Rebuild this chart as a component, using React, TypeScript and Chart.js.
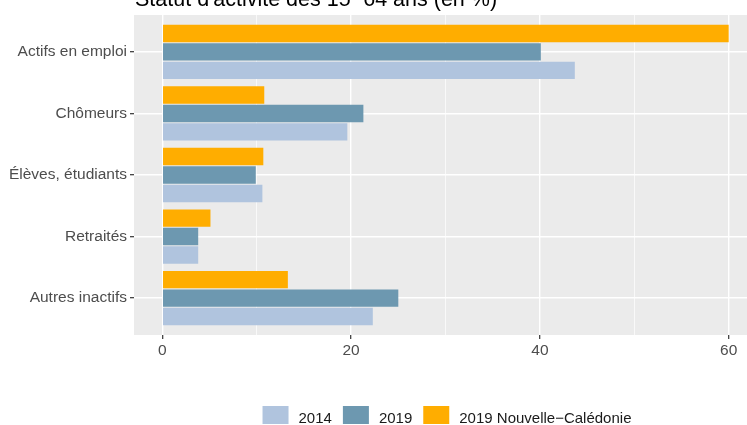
import React, { useEffect, useRef } from 'react';
import { Chart, registerables } from 'chart.js';

Chart.register(...registerables);

const titleText = "Statut d'activité des 15−64 ans (en %)";
const categories = ['Actifs en emploi', 'Chômeurs', 'Élèves, étudiants', 'Retraités', 'Autres inactifs'];
const values2014 = [43.7, 19.6, 10.6, 3.8, 22.3];
const values2019 = [40.1, 21.3, 9.9, 3.8, 25.0];
const valuesNC = [60.0, 10.8, 10.7, 5.1, 13.3];
const seriesLabels = ['2014', '2019', '2019 Nouvelle−Calédonie'];
const seriesColors = ['#B0C4DE', '#6D98B0', '#FFAD00'];
const xTicks = [0, 10, 20, 30, 40, 50, 60];
const xLabelStep = 20;

const FONT = '"Liberation Sans", Arial, sans-serif';

export default function App() {
  const ref = useRef<HTMLCanvasElement | null>(null);

  useEffect(() => {
    const canvas = ref.current;
    if (!canvas) return;

    const toPoints = (vals: number[]) => vals.map((v, i) => ({ x: v, y: i + 1 }));

    const panelBg = {
      id: 'panelBg',
      beforeDraw(chart: any) {
        const { ctx, chartArea } = chart;
        ctx.save();
        ctx.fillStyle = '#EBEBEB';
        ctx.fillRect(chartArea.left, chartArea.top, chartArea.right - chartArea.left, chartArea.bottom - chartArea.top);
        ctx.restore();
      },
    };

    const titleAndLegend = {
      id: 'titleAndLegend',
      afterDraw(chart: any) {
        const { ctx } = chart;
        ctx.save();
        ctx.font = `21.5px ${FONT}`;
        ctx.fillStyle = '#000000';
        ctx.textBaseline = 'alphabetic';
        ctx.textAlign = 'left';
        ctx.fillText(titleText, 135, 6);

        const ds = chart.data.datasets.slice().reverse();
        ctx.font = `15px ${FONT}`;
        const boxW = 26, boxH = 18, gapBoxText = 10, gapItems = 11;
        const widths = ds.map((d: any) => ctx.measureText(d.label).width);
        let total = 0;
        widths.forEach((w: number, i: number) => {
          total += boxW + gapBoxText + w + (i < widths.length - 1 ? gapItems : 0);
        });
        const center = 447;
        let x = center - total / 2;
        const boxTop = 406;
        ds.forEach((d: any, i: number) => {
          ctx.fillStyle = d.backgroundColor;
          ctx.fillRect(x, boxTop, boxW, boxH);
          x += boxW + gapBoxText;
          ctx.fillStyle = '#1A1A1A';
          ctx.textBaseline = 'alphabetic';
          ctx.fillText(d.label, x, 423);
          x += widths[i] + gapItems;
        });
        ctx.restore();
      },
    };

    const chart = new Chart(canvas, {
      type: 'bar',
      data: {
        datasets: [
          { label: seriesLabels[2], data: toPoints(valuesNC), backgroundColor: seriesColors[2] },
          { label: seriesLabels[1], data: toPoints(values2019), backgroundColor: seriesColors[1] },
          { label: seriesLabels[0], data: toPoints(values2014), backgroundColor: seriesColors[0] },
        ] as any,
      },
      options: {
        indexAxis: 'y',
        animation: false,
        responsive: false,
        devicePixelRatio: 1,
        layout: { padding: { top: 15, left: 0, right: 0, bottom: 60 } },
        datasets: {
          bar: { categoryPercentage: 0.9, barPercentage: 0.94, borderWidth: 0 },
        } as any,
        plugins: {
          legend: { display: false },
          title: { display: false },
          tooltip: { enabled: false },
        },
        scales: {
          x: {
            type: 'linear',
            min: -3,
            max: 61.94,
            offset: false,
            afterBuildTicks: (scale: any) => {
              scale.ticks = xTicks.map((v) => ({ value: v }));
            },
            afterFit: (scale: any) => {
              scale.height = 30;
            },
            ticks: {
              autoSkip: false,
              maxRotation: 0,
              padding: 2,
              color: '#4D4D4D',
              font: { size: 15.5, family: FONT },
              callback: (v: any) => (Number(v) % xLabelStep === 0 ? String(v) : ''),
            },
            grid: {
              offset: false,
              color: '#FFFFFF',
              lineWidth: (ctx: any) => (ctx.tick && ctx.tick.value % xLabelStep === 0 ? 1.4 : 0.7),
              tickColor: (ctx: any) => (ctx.tick && ctx.tick.value % xLabelStep === 0 ? '#333333' : 'rgba(0,0,0,0)'),
              tickLength: 4,
              tickWidth: 1.2,
              drawTicks: true,
            },
            border: { display: false },
          },
          y: {
            type: 'linear',
            min: 0.4,
            max: 5.6,
            reverse: true,
            offset: false,
            afterBuildTicks: (scale: any) => {
              scale.ticks = categories.map((_, i) => ({ value: i + 1 }));
            },
            afterFit: (scale: any) => {
              scale.width = 134;
            },
            ticks: {
              autoSkip: false,
              padding: 3,
              color: '#4D4D4D',
              font: { size: 15.5, family: FONT },
              callback: (v: any) => categories[Number(v) - 1] ?? '',
            },
            grid: {
              offset: false,
              color: '#FFFFFF',
              lineWidth: 1.4,
              tickColor: '#333333',
              tickLength: 4,
              tickWidth: 1.2,
            },
            border: { display: false },
          },
        } as any,
      },
      plugins: [panelBg, titleAndLegend],
    });

    return () => chart.destroy();
  }, []);

  return (
    <div style={{ position: 'absolute', left: 0, top: 0, width: 747, height: 425, overflow: 'hidden' }}>
      <canvas ref={ref} width={747} height={425} style={{ display: 'block', width: 747, height: 425 }} />
    </div>
  );
}
